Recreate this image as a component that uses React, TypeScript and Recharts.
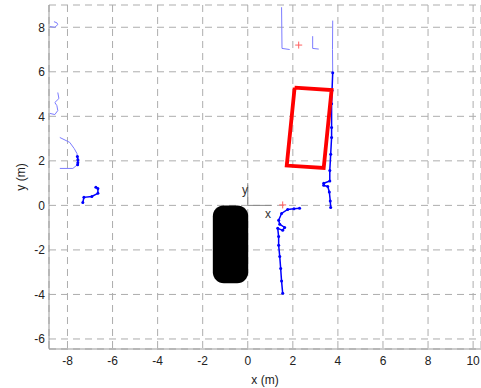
import React from 'react';
import {
  ScatterChart, Scatter, XAxis, YAxis, CartesianGrid, ReferenceArea, ReferenceLine, ReferenceDot,
} from 'recharts';

const xTicks = [-8, -6, -4, -2, 0, 2, 4, 6, 8, 10];
const yTicks = [-6, -4, -2, 0, 2, 4, 6, 8];
const xDomain = [-8.82, 10.35];
const yDomain = [-6.45, 9.0];

// light (sparse) scan segments
const leftTop = [
  { x: -8.78, y: 8.03 }, { x: -8.56, y: 8.0 }, { x: -8.43, y: 8.12 }, { x: -8.47, y: 8.2 }, { x: -8.6, y: 8.25 },
];
const leftMid = [
  { x: -8.78, y: 4.13 }, { x: -8.56, y: 4.08 }, { x: -8.43, y: 4.26 }, { x: -8.47, y: 4.48 },
  { x: -8.56, y: 4.62 }, { x: -8.38, y: 4.8 }, { x: -8.43, y: 5.07 },
];
const leftLow = [
  { x: -8.34, y: 3.05 }, { x: -7.9, y: 2.83 }, { x: -7.7, y: 2.55 }, { x: -7.58, y: 2.33 },
  { x: -7.54, y: 2.02 }, { x: -7.54, y: 1.84 }, { x: -7.76, y: 1.66 }, { x: -8.34, y: 1.66 },
];
const topLeftPost = [{ x: 1.5, y: 8.9 }, { x: 1.52, y: 7.05 }, { x: 1.86, y: 7.0 }];
const topRightPost = [{ x: 2.88, y: 7.6 }, { x: 2.88, y: 7.05 }, { x: 3.15, y: 7.02 }];
const wallUpper = [{ x: 3.77, y: 8.3 }, { x: 3.76, y: 7.0 }, { x: 3.77, y: 5.96 }];

// dense scan segments
const leftLowDense = [{ x: -7.56, y: 2.2 }, { x: -7.54, y: 2.05 }, { x: -7.54, y: 1.92 }, { x: -7.55, y: 1.82 }];
const leftBottom = [
  { x: -7.32, y: 0.13 }, { x: -7.27, y: 0.36 }, { x: -6.92, y: 0.4 }, { x: -6.65, y: 0.54 },
  { x: -6.65, y: 0.76 }, { x: -6.74, y: 0.81 },
];
const wallLower = [
  { x: 3.77, y: 5.96 }, { x: 3.74, y: 5.16 }, { x: 3.72, y: 4.57 }, { x: 3.72, y: 3.5 }, { x: 3.72, y: 3.05 },
  { x: 3.68, y: 2.3 }, { x: 3.64, y: 1.57 }, { x: 3.64, y: 1.1 }, { x: 3.37, y: 0.99 }, { x: 3.37, y: 0.9 },
  { x: 3.55, y: 0.85 }, { x: 3.62, y: 0.6 }, { x: 3.66, y: 0.2 }, { x: 3.68, y: -0.09 },
];
const nearCurve = [
  { x: 2.3, y: -0.13 }, { x: 2.05, y: -0.15 }, { x: 1.77, y: -0.18 }, { x: 1.5, y: -0.36 }, { x: 1.37, y: -0.67 },
  { x: 1.42, y: -0.85 }, { x: 1.64, y: -0.99 }, { x: 1.55, y: -1.12 }, { x: 1.33, y: -1.03 }, { x: 1.37, y: -1.4 },
  { x: 1.37, y: -1.79 }, { x: 1.42, y: -2.3 }, { x: 1.46, y: -2.83 }, { x: 1.5, y: -3.4 }, { x: 1.55, y: -3.95 },
];

const redBox = [
  { x: 2.08, y: 5.29 }, { x: 3.72, y: 5.18 }, { x: 3.37, y: 1.68 }, { x: 1.73, y: 1.79 }, { x: 2.08, y: 5.29 },
];
const redCrosses = [{ x: 1.55, y: 0.02 }, { x: 2.26, y: 7.2 }];
const vehicle = { x1: -1.55, x2: 0.02, y1: -3.5, y2: 0 };
const frameX = [{ x: 0, y: 0 }, { x: 1.05, y: 0 }];
const frameY = [{ x: 0, y: 0 }, { x: 0, y: 1.0 }];
const frameLabels = [{ x: 0.9, y: -0.38, t: 'x' }, { x: -0.12, y: 0.72, t: 'y' }];

const LIGHT = '#7c7cff';
const DARK = '#0000ff';
const FONT = 'Liberation Sans, Arial, sans-serif';

const noDot = () => <g />;
const darkDot = (p: any) => <circle cx={p.cx} cy={p.cy} r={1.5} fill={DARK} />;
const crossShape = (p: any) => (
  <g stroke="#ff6060" strokeWidth={1}>
    <line x1={p.cx - 3.5} y1={p.cy} x2={p.cx + 3.5} y2={p.cy} />
    <line x1={p.cx} y1={p.cy - 3.5} x2={p.cx} y2={p.cy + 3.5} />
  </g>
);

export default function App() {
  const tickStyle = { fontSize: 12, fill: '#222', fontFamily: FONT };
  return (
    <div style={{ position: 'absolute', left: 0, top: 0, width: 481, height: 388, background: '#fff' }}>
      <ScatterChart width={481} height={388} margin={{ top: 5, right: 0, bottom: 0, left: 0 }}>
        <CartesianGrid stroke="#adadad" strokeDasharray="7 5" />
        <XAxis
          type="number" dataKey="x" domain={xDomain} ticks={xTicks} allowDataOverflow
          height={39} tickSize={0} tickMargin={7} tick={tickStyle} stroke="#999"
          label={{ value: 'x (m)', position: 'insideBottom', offset: 4, fontSize: 12, fill: '#222', fontFamily: FONT }}
        />
        <YAxis
          type="number" dataKey="y" domain={yDomain} ticks={yTicks} allowDataOverflow
          width={49} tickSize={0} tickMargin={4} tick={tickStyle} stroke="#999"
          label={(props: any) => {
            const vb = props.viewBox || {};
            const cx = 21;
            const cy = (vb.y || 0) + (vb.height || 0) / 2;
            return (
              <text x={cx} y={cy} transform={`rotate(-90 ${cx} ${cy})`} textAnchor="middle"
                dominantBaseline="central" fontSize={12} fill="#222" fontFamily={FONT}>y (m)</text>
            );
          }}
        />
        <ReferenceArea
          x1={vehicle.x1} x2={vehicle.x2} y1={vehicle.y1} y2={vehicle.y2}
          shape={(p: any) => <rect x={p.x} y={p.y} width={p.width} height={p.height} rx={11} ry={11} fill="#000" />}
        />
        <ReferenceLine segment={frameX} stroke="#888" strokeWidth={1} />
        <ReferenceLine segment={frameY} stroke="#888" strokeWidth={1} />
        {frameLabels.map((l) => (
          <ReferenceDot key={l.t} x={l.x} y={l.y} r={0} fill="none" stroke="none"
            label={{ value: l.t, position: 'center', fontSize: 12, fill: '#333', fontFamily: FONT }} />
        ))}
        {[leftTop, leftMid, leftLow, topLeftPost, topRightPost, wallUpper].map((d, i) => (
          <Scatter key={'l' + i} data={d} line={{ stroke: LIGHT, strokeWidth: 1 }} lineType="joint"
            shape={noDot} isAnimationActive={false} />
        ))}
        {[leftLowDense, leftBottom, wallLower, nearCurve].map((d, i) => (
          <Scatter key={'d' + i} data={d} line={{ stroke: DARK, strokeWidth: 1.5 }} lineType="joint"
            shape={darkDot} isAnimationActive={false} />
        ))}
        <Scatter data={redBox} line={{ stroke: '#ff0000', strokeWidth: 3.8, strokeLinejoin: 'miter' }}
          lineType="joint" shape={noDot} isAnimationActive={false} />
        <Scatter data={redCrosses} shape={crossShape} isAnimationActive={false} />
      </ScatterChart>
    </div>
  );
}
